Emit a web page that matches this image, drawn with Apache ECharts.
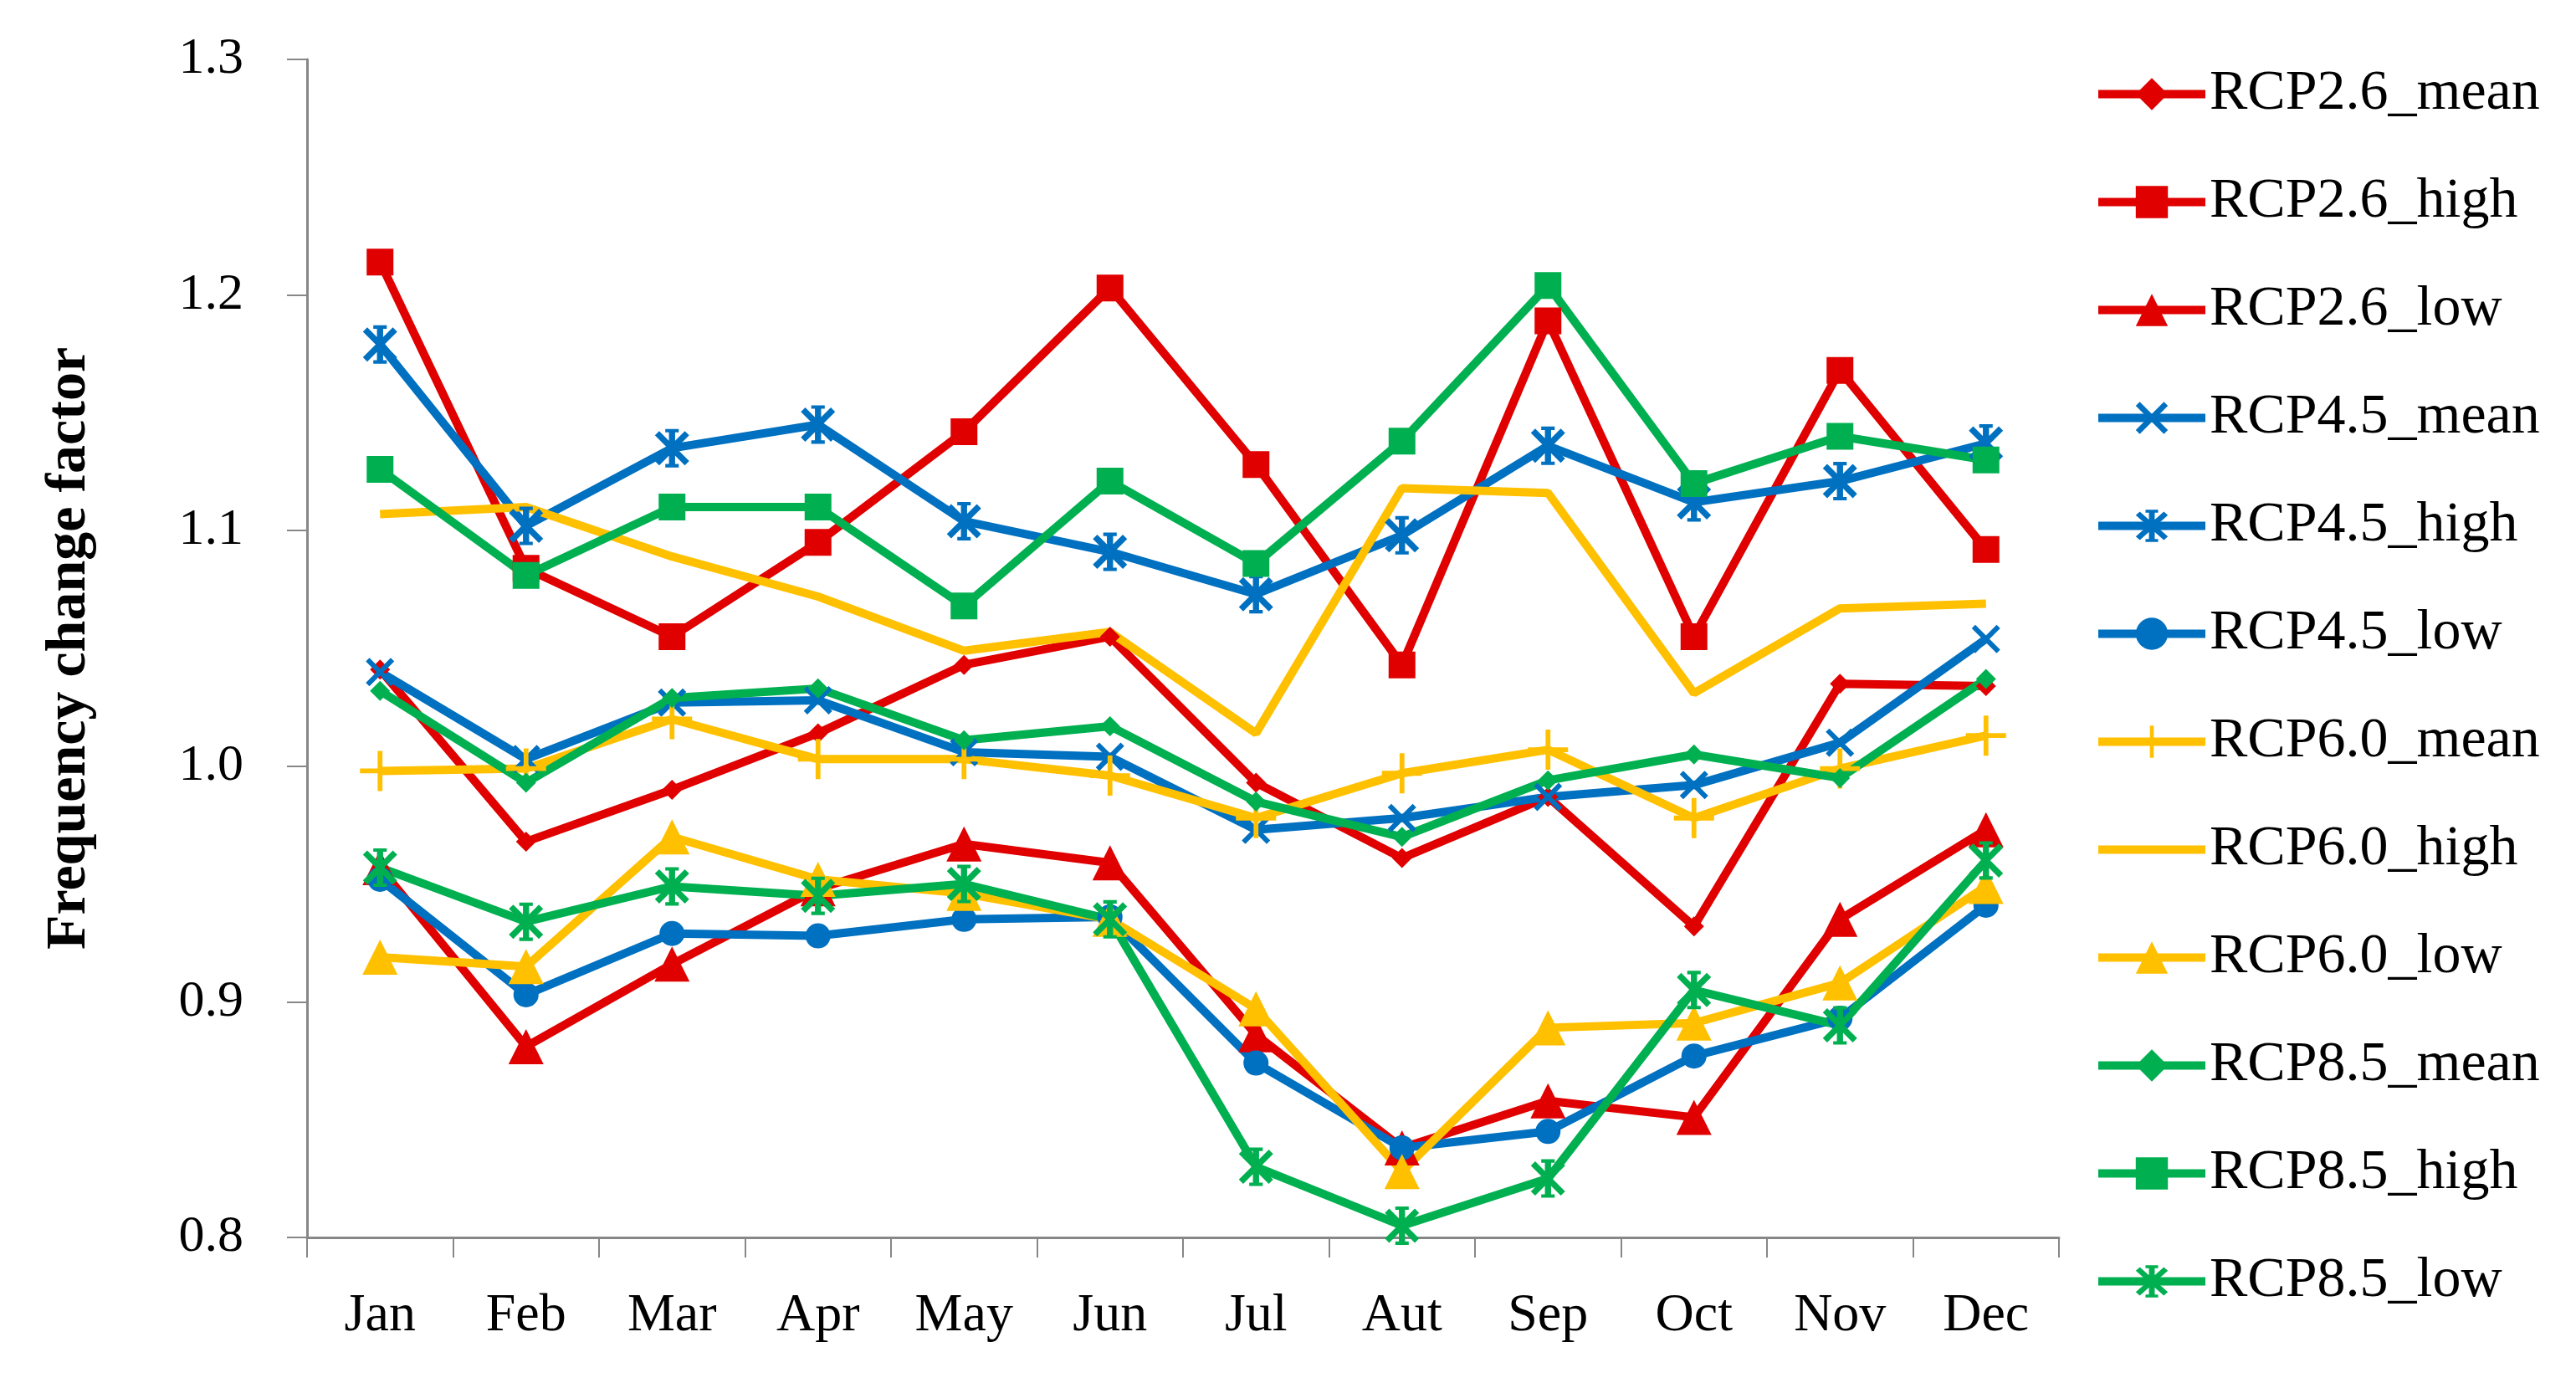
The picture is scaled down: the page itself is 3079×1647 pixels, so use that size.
<!DOCTYPE html>
<html>
<head>
<meta charset="utf-8">
<script src="https://cdn.jsdelivr.net/npm/echarts@6/dist/echarts.min.js"></script>
<style>
html,body{margin:0;padding:0;background:#fff;}
#chart{width:3079px;height:1647px;}
</style>
</head>
<body>
<div id="chart"></div>
<script>
// ---- Data ----
const months = ['Jan','Feb','Mar','Apr','May','Jun','Jul','Aut','Sep','Oct','Nov','Dec'];
const yTicks = [0.8, 0.9, 1.0, 1.1, 1.2, 1.3];

const rcp26_mean = [1.041, 0.968, 0.990, 1.014, 1.043, 1.055, 0.993, 0.961, 0.987, 0.932, 1.035, 1.034];
const rcp26_high = [1.214, 1.084, 1.055, 1.095, 1.142, 1.203, 1.128, 1.043, 1.189, 1.055, 1.168, 1.092];
const rcp26_low  = [0.957, 0.881, 0.916, 0.948, 0.967, 0.959, 0.886, 0.838, 0.858, 0.851, 0.935, 0.973];
const rcp45_mean = [1.040, 1.003, 1.027, 1.028, 1.006, 1.004, 0.973, 0.978, 0.987, 0.992, 1.010, 1.054];
const rcp45_high = [1.179, 1.102, 1.135, 1.145, 1.104, 1.091, 1.073, 1.098, 1.136, 1.112, 1.121, 1.137];
const rcp45_low  = [0.952, 0.903, 0.929, 0.928, 0.935, 0.936, 0.874, 0.838, 0.845, 0.877, 0.893, 0.941];
const rcp60_mean = [0.998, 0.999, 1.020, 1.003, 1.003, 0.996, 0.978, 0.997, 1.007, 0.978, 0.999, 1.013];
const rcp60_high = [1.107, 1.110, 1.089, 1.072, 1.049, 1.057, 1.014, 1.118, 1.116, 1.031, 1.067, 1.069];
const rcp60_low  = [0.919, 0.915, 0.970, 0.952, 0.946, 0.935, 0.897, 0.828, 0.889, 0.891, 0.908, 0.949];
const rcp85_mean = [1.032, 0.993, 1.029, 1.033, 1.011, 1.017, 0.985, 0.970, 0.994, 1.005, 0.995, 1.037];
const rcp85_high = [1.126, 1.081, 1.110, 1.110, 1.068, 1.121, 1.086, 1.138, 1.204, 1.120, 1.140, 1.130];
const rcp85_low  = [0.957, 0.934, 0.949, 0.945, 0.950, 0.935, 0.830, 0.805, 0.825, 0.905, 0.890, 0.960];

const seriesNames = ['RCP2.6_mean','RCP2.6_high','RCP2.6_low','RCP4.5_mean','RCP4.5_high','RCP4.5_low',
                     'RCP6.0_mean','RCP6.0_high','RCP6.0_low','RCP8.5_mean','RCP8.5_high','RCP8.5_low'];
const seriesData = [rcp26_mean, rcp26_high, rcp26_low, rcp45_mean, rcp45_high, rcp45_low,
                    rcp60_mean, rcp60_high, rcp60_low, rcp85_mean, rcp85_high, rcp85_low];

// ---- Styles ----
const RED = '#E00000', BLUE = '#0070C0', YELLOW = '#FFC000', GREEN = '#00B050';

function barPoly(angleDeg, len, thick) {
  const a = angleDeg * Math.PI / 180;
  const cx = 10, cy = 10;
  const ux = Math.cos(a), uy = Math.sin(a);
  const vx = -uy, vy = ux;
  const h = len / 2, t = thick / 2;
  const pts = [[-h,-t],[h,-t],[h,t],[-h,t]].map(p => [cx + p[0]*ux + p[1]*vx, cy + p[0]*uy + p[1]*vy]);
  return 'M' + pts.map(p => p[0].toFixed(2) + ',' + p[1].toFixed(2)).join('L') + 'Z';
}
const PLUS = 'path://' + barPoly(0, 20, 2.4) + barPoly(90, 20, 2.4);
const CROSS = 'path://' + barPoly(45, 24, 3.4) + barPoly(135, 24, 3.4);
const STAR = 'path://' + barPoly(90, 20, 3.2) + barPoly(45, 22, 3.2) + barPoly(135, 22, 3.2)
  + 'M6.5,0L13.5,0L13.5,1.8L6.5,1.8Z' + 'M6.5,18.2L13.5,18.2L13.5,20L6.5,20Z';

const styles = [
  {color: RED,    symbol: 'diamond',  size: 24, hidden: false},
  {color: RED,    symbol: 'rect',     size: 32, hidden: false},
  {color: RED,    symbol: 'triangle', size: 42, hidden: false},
  {color: BLUE,   symbol: CROSS,      size: 34, hidden: false},
  {color: BLUE,   symbol: STAR,       size: 46, hidden: false},
  {color: BLUE,   symbol: 'circle',   size: 30, hidden: false},
  {color: YELLOW, symbol: PLUS,       size: 48, hidden: false},
  {color: YELLOW, symbol: 'circle',   size: 1,  hidden: true},
  {color: YELLOW, symbol: 'triangle', size: 42, hidden: false},
  {color: GREEN,  symbol: 'diamond',  size: 24, hidden: false},
  {color: GREEN,  symbol: 'rect',     size: 32, hidden: false},
  {color: GREEN,  symbol: STAR,       size: 46, hidden: false}
];

const series = seriesNames.map((name, i) => ({
  name: name,
  type: 'line',
  data: seriesData[i],
  symbol: styles[i].symbol,
  symbolSize: styles[i].size,
  symbolKeepAspect: true,
  showSymbol: !styles[i].hidden,
  lineStyle: {color: styles[i].color, width: 10, opacity: 1},
  itemStyle: {color: styles[i].color, opacity: styles[i].hidden ? 0 : 1},
  emphasis: {disabled: true},
  animation: false
}));

const FONT = '"Liberation Serif", "Times New Roman", serif';
const AXIS_GRAY = '#878787';

const chart = echarts.init(document.getElementById('chart'), null, {renderer: 'canvas'});
chart.setOption({
  backgroundColor: '#ffffff',
  animation: false,
  grid: {left: 367, right: 618, top: 71, bottom: 168, containLabel: false},
  legend: {
    orient: 'vertical',
    left: 2498,
    top: 72,
    itemWidth: 128,
    itemHeight: 48,
    itemGap: 58,
    lineStyle: {width: 10},
    textStyle: {fontFamily: FONT, fontSize: 68, color: '#000', lineHeight: 71},
    data: seriesNames
  },
  xAxis: {
    type: 'category',
    data: months,
    boundaryGap: true,
    axisLine: {lineStyle: {color: AXIS_GRAY, width: 3}},
    axisTick: {show: true, length: 24, lineStyle: {color: AXIS_GRAY, width: 2}},
    axisLabel: {fontFamily: FONT, fontSize: 64, color: '#000', margin: 62}
  },
  yAxis: {
    type: 'value',
    min: 0.8,
    max: 1.3,
    interval: 0.1,
    name: 'Frequency change factor',
    nameLocation: 'middle',
    nameGap: 250,
    nameTextStyle: {fontFamily: FONT, fontSize: 68, fontWeight: 'bold', color: '#000'},
    axisLine: {show: true, lineStyle: {color: AXIS_GRAY, width: 3}},
    axisTick: {show: true, length: 24, lineStyle: {color: AXIS_GRAY, width: 2}},
    splitLine: {show: false},
    axisLabel: {fontFamily: FONT, fontSize: 62, color: '#000', margin: 76,
      formatter: v => yTicks.indexOf(Math.round(v*10)/10) >= 0 ? v.toFixed(1) : ''}
  },
  series: series
});
</script>
</body>
</html>
